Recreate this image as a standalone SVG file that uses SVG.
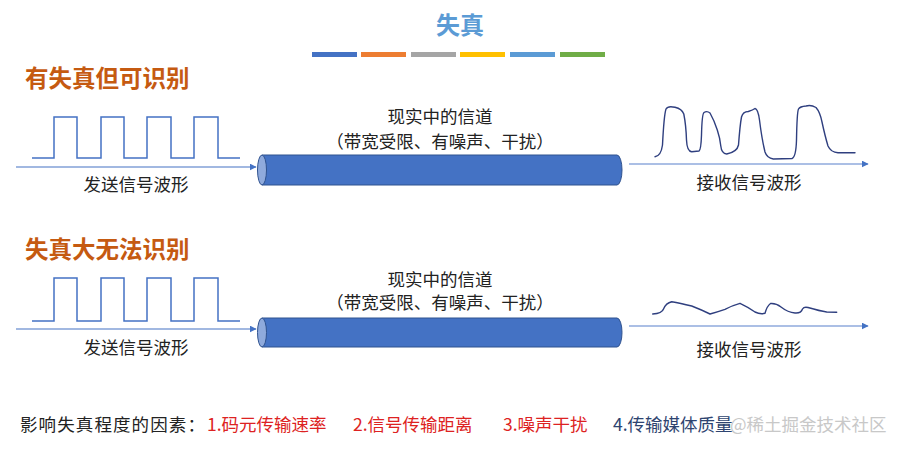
<svg xmlns="http://www.w3.org/2000/svg" width="906" height="450" viewBox="0 0 906 450">
<defs>
<style>
.t{font-family:"Noto Sans CJK SC","Liberation Sans",sans-serif;}
.title{font-size:24px;font-weight:bold;fill:#5b9bd5;}
.head{font-size:23.5px;font-weight:bold;fill:#c55a11;}
.lbl{font-size:17.5px;fill:#222;}
.wave{fill:none;stroke:#4472c4;stroke-width:1.5;}
.rx{fill:none;stroke:#2f3f7f;stroke-width:1.4;stroke-linejoin:round;stroke-linecap:round;}
.arr{stroke:#4472c4;stroke-width:1.2;fill:none;}
.arr2{stroke:#8faadc;stroke-width:1.5;fill:none;}
.cyl{fill:#4472c4;stroke:#2f528f;stroke-width:1;}
.cap{fill:#8faadc;stroke:#2f528f;stroke-width:1;}
.ft{font-size:17.5px;}
.red{fill:#d22;}
</style>
<marker id="ah" viewBox="0 0 10 10" refX="9" refY="5" markerWidth="7" markerHeight="7" orient="auto" markerUnits="userSpaceOnUse"><path d="M0,0 L10,5 L0,10 z" fill="#4472c4"/></marker>
</defs>
<rect width="906" height="450" fill="#fff"/>
<g id="title">
<text class="t title" x="460" y="34" text-anchor="middle">失真</text>
<rect x="312" y="52" width="45" height="5" fill="#4472c4"/>
<rect x="361" y="52" width="45" height="5" fill="#ed7d31"/>
<rect x="411" y="52" width="45" height="5" fill="#a5a5a5"/>
<rect x="460" y="52" width="45" height="5" fill="#ffc000"/>
<rect x="510" y="52" width="45" height="5" fill="#5b9bd5"/>
<rect x="560" y="52" width="45" height="5" fill="#70ad47"/>
</g>
<g id="top">
<text class="t head" x="25" y="87">有失真但可识别</text>
<g id="send1">
<path class="wave" d="M32,158 H54 V117 H77 V158 H101 V117 H124 V158 H147 V117 H171 V158 H194 V117 H218 V158 H240"/>
<text class="t lbl" x="136" y="191" text-anchor="middle">发送信号波形</text>
</g>
<g id="channel1">
<text class="t lbl" x="440" y="123" text-anchor="middle">现实中的信道</text>
<text class="t lbl" x="440" y="148" text-anchor="middle">（带宽受限、有噪声、干扰）</text>
<path class="cyl" d="M262,155 H617 A5,15 0 0 1 617,185 H262 Z"/>
<ellipse class="cap" cx="262" cy="170" rx="4.5" ry="15"/>
</g>
<g id="recv1">
<path class="rx" d="M655,156.7 Q661,156 662.5,145 Q664,115 666,109 Q668,105.5 675,107.3 Q682,109 683.8,114 Q686,125 686.5,140 Q687,151.5 691.7,151.7 L699,151 Q701,150 701.5,135 Q702,114 704,112.5 Q707,110.5 710,113 Q714,120 717.3,130 Q720,138 720.8,146 Q721.5,153.5 726.7,154 Q737,152 738.5,145 Q740,125 741.5,117 Q743,111.5 748.3,111.5 Q753,110 755,108.5 Q758,109 759.5,120 Q762,140 765,152 Q767,158 773.3,159 L792,158.5 Q796,157 796.5,140 Q797,112 798.5,109 Q800,106.5 806,106 Q811,104.5 816,107.5 Q820,112 822,122 Q825,136 828,146 Q831,152.5 838,152.7 L855,152.7"/>
<text class="t lbl" x="749" y="189" text-anchor="middle">接收信号波形</text>
</g>
</g>
<g id="bottom">
<text class="t head" x="25" y="258">失真大无法识别</text>
<g id="send2">
<path class="wave" d="M32,321 H54 V278 H77 V321 H101 V278 H124 V321 H147 V278 H171 V321 H194 V278 H218 V321 H240"/>
<text class="t lbl" x="136" y="354" text-anchor="middle">发送信号波形</text>
</g>
<g id="channel2">
<text class="t lbl" x="440" y="286" text-anchor="middle">现实中的信道</text>
<text class="t lbl" x="440" y="309" text-anchor="middle">（带宽受限、有噪声、干扰）</text>
<path class="cyl" d="M262,318 H617 A5,14.5 0 0 1 617,347 H262 Z"/>
<ellipse class="cap" cx="262" cy="332.5" rx="4.5" ry="14.5"/>
</g>
<g id="recv2">
<path class="rx" d="M652.7,314 Q662,313.5 663.5,309 Q666,303 671.7,301.7 Q680,303 691.7,306 Q702,310 710,314 Q717,312 725,309.3 Q732,305.5 740,303.3 Q748,307 755,312 Q760,314.5 765,313.3 Q767,306 770.5,303.5 Q776,303 781,307 Q788,312.5 795,313 Q801,313.5 802.5,309 Q804,306.5 808,307.5 Q820,311 826.7,312 L836.7,312.3"/>
<text class="t lbl" x="749" y="356" text-anchor="middle">接收信号波形</text>
</g>
</g>
<g id="connectors">
<line class="arr" x1="16" y1="167" x2="256" y2="167" marker-end="url(#ah)"/>
<line class="arr2" x1="629" y1="164" x2="868" y2="164" marker-end="url(#ah)"/>
<line class="arr" x1="16" y1="329" x2="256" y2="329" marker-end="url(#ah)"/>
<line class="arr2" x1="629" y1="326" x2="868" y2="326" marker-end="url(#ah)"/>
</g>
<g id="factors">
<text class="t ft" x="20" y="431" fill="#222" letter-spacing="1.1">影响失真程度的因素：</text>
<text class="t ft red" x="207" y="431">1.码元传输速率</text>
<text class="t ft red" x="353" y="431">2.信号传输距离</text>
<text class="t ft red" x="503" y="431">3.噪声干扰</text>
<text class="t ft" x="613" y="431" fill="#2e4470">4.传输媒体质量</text>
<text class="t ft" x="730" y="431" fill="#c8c8c8">@稀土掘金技术社区</text>
</g>
</svg>
